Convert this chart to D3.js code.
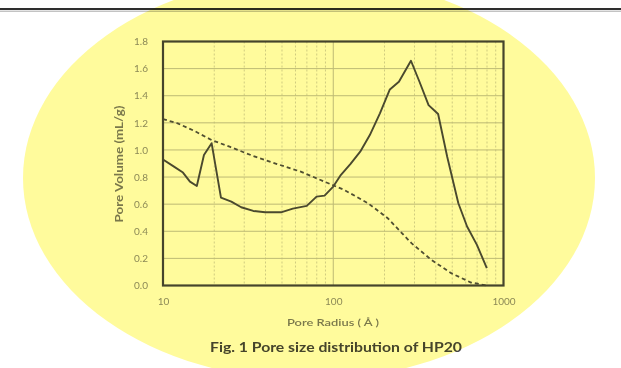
<!DOCTYPE html>
<html><head><meta charset="utf-8">
<script src="https://cdn.jsdelivr.net/npm/d3@7"></script>
<style>html,body{margin:0;padding:0;background:#fff;}svg{display:block;}</style>
</head><body>
<script>
// Pore size distribution (solid)
const psdRadius = [10, 11.6, 13.1, 14.4, 15.8, 17.4, 19.3, 21.9, 25.2, 28.8, 33.9, 39.8, 49.3, 57.9, 69.9, 79.8, 88.9, 100, 110, 126, 144, 164, 188, 215, 243, 286, 321, 363, 413, 467, 543, 611, 698, 798];
const psdVolume = [0.93, 0.877, 0.833, 0.766, 0.734, 0.963, 1.05, 0.648, 0.619, 0.577, 0.55, 0.54, 0.54, 0.567, 0.587, 0.656, 0.663, 0.73, 0.81, 0.896, 0.987, 1.11, 1.27, 1.446, 1.503, 1.658, 1.503, 1.331, 1.265, 0.95, 0.607, 0.435, 0.30, 0.128];
// Cumulative pore volume (dashed)
const cumRadius = [10, 12.2, 15.2, 19.3, 24.6, 33.9, 46.8, 64.4, 88.9, 116, 160, 209, 288, 377, 493, 644, 798];
const cumVolume = [1.228, 1.196, 1.142, 1.073, 1.024, 0.955, 0.896, 0.84, 0.766, 0.705, 0.607, 0.496, 0.312, 0.189, 0.091, 0.022, 0.0];
const yTicks = [0, 0.2, 0.4, 0.6, 0.8, 1.0, 1.2, 1.4, 1.6, 1.8];
const xTicks = [10, 100, 1000];
const xTitle = "Pore Radius ( Å )";
const yTitle = "Pore Volume  (mL/g)";
const caption = "Fig. 1 Pore size distribution of HP20";

const W = 621, H = 368;
const m = {left: 163, right: 503.5, top: 41.5, bottom: 285.5};
const FONT = "Lato, 'Open Sans', sans-serif";
const svg = d3.select("body").append("svg").attr("width", W).attr("height", H);
svg.append("rect").attr("width", W).attr("height", H).attr("fill", "#fff");

// top rule
svg.append("line").attr("x1", 0).attr("x2", W).attr("y1", 9).attr("y2", 9).attr("stroke", "#2e2e2e").attr("stroke-width", 2.2);
svg.append("line").attr("x1", 0).attr("x2", W).attr("y1", 11.2).attr("y2", 11.2).attr("stroke", "#a8a8a8").attr("stroke-width", 1);

const x = d3.scaleLog().domain([10, 1000]).range([m.left, m.right]);
const y = d3.scaleLinear().domain([0, 1.8]).range([m.bottom, m.top]);

const g = svg.append("g");
// vertical grid
const minor = [];
[10, 100].forEach(d => { for (let k = 2; k <= 9; k++) minor.push(d * k); });
g.append("g").selectAll("line").data(minor).join("line")
  .attr("x1", d => x(d)).attr("x2", d => x(d)).attr("y1", m.top).attr("y2", m.bottom)
  .attr("stroke", "#cfcfcf").attr("stroke-width", 1).attr("stroke-dasharray", "2,2");
g.append("line").attr("x1", x(100)).attr("x2", x(100)).attr("y1", m.top).attr("y2", m.bottom)
  .attr("stroke", "#bdbdbd").attr("stroke-width", 1);
// horizontal grid
g.append("g").selectAll("line").data(yTicks.slice(1, -1)).join("line")
  .attr("x1", m.left).attr("x2", m.right).attr("y1", d => y(d)).attr("y2", d => y(d))
  .attr("stroke", "#bdbdbd").attr("stroke-width", 1);

// curves
const line = (xs, ys) => d3.line().x((d, i) => x(xs[i])).y((d, i) => y(ys[i]))(xs);
g.append("path").attr("d", line(cumRadius, cumVolume)).attr("fill", "none")
  .attr("stroke", "#505050").attr("stroke-width", 1.8).attr("stroke-dasharray", "4,3");
g.append("path").attr("d", line(psdRadius, psdVolume)).attr("fill", "none")
  .attr("stroke", "#4a4a4a").attr("stroke-width", 1.9).attr("stroke-linejoin", "round");

// frame
g.append("rect").attr("x", m.left).attr("y", m.top).attr("width", m.right - m.left).attr("height", m.bottom - m.top)
  .attr("fill", "none").attr("stroke", "#454545").attr("stroke-width", 2.2);

// axes
const yAxis = d3.axisLeft(y).tickValues(yTicks).tickFormat(d3.format(".1f")).tickSize(0).tickPadding(15);
const ya = svg.append("g").attr("transform", `translate(${m.left},0)`).call(yAxis);
ya.select(".domain").remove();
ya.selectAll("text").attr("font-family", FONT).attr("font-size", 10).attr("fill", "#8c8c8c");

const xAxis = d3.axisBottom(x).tickValues(xTicks).tickFormat(d3.format("d")).tickSize(0).tickPadding(12);
const xa = svg.append("g").attr("transform", `translate(0,${m.bottom})`).call(xAxis);
xa.select(".domain").remove();
xa.selectAll("text").attr("font-family", FONT).attr("font-size", 10).attr("fill", "#8c8c8c");

svg.append("text").attr("x", 333).attr("y", 326).attr("text-anchor", "middle")
  .attr("font-family", FONT).attr("font-size", 10).attr("font-weight", 600)
  .attr("textLength", 92).attr("lengthAdjust", "spacingAndGlyphs")
  .attr("fill", "#7a7a7a").text(xTitle);
svg.append("text").attr("transform", "translate(123,164) rotate(-90)").attr("text-anchor", "middle")
  .attr("font-family", FONT).attr("font-size", 10.5).attr("font-weight", 700)
  .attr("textLength", 117).attr("lengthAdjust", "spacingAndGlyphs")
  .attr("fill", "#7a7a7a").text(yTitle);

svg.append("text").attr("x", 210).attr("y", 352)
  .attr("font-family", FONT).attr("font-size", 13).attr("font-weight", 700)
  .attr("textLength", 252).attr("lengthAdjust", "spacingAndGlyphs")
  .attr("fill", "#454545").text(caption);

// yellow highlight ellipse (multiply overlay)
svg.append("ellipse").attr("cx", 309).attr("cy", 178).attr("rx", 286).attr("ry", 202)
  .attr("fill", "#fffb9c").style("mix-blend-mode", "multiply");
</script>
</body></html>
